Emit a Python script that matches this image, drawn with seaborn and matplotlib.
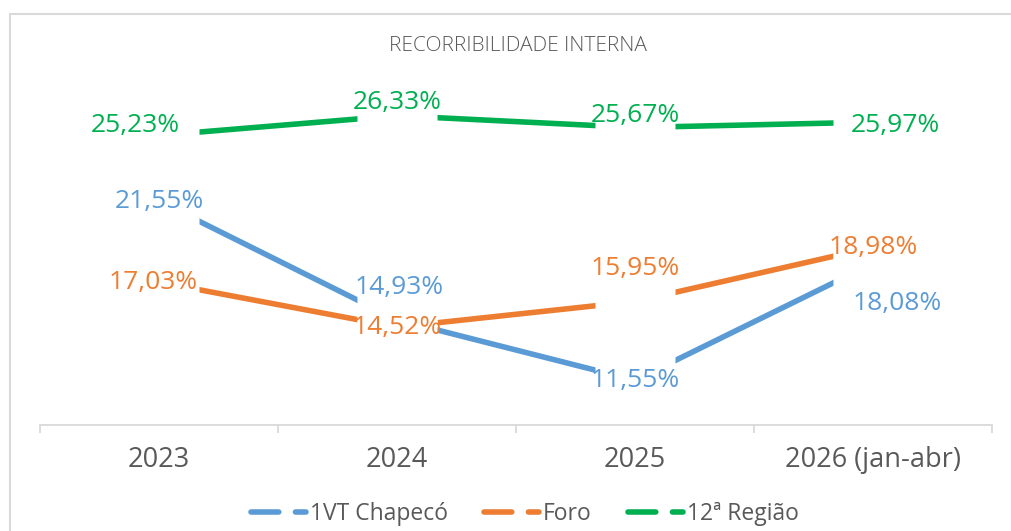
import numpy as np
import pandas as pd
import seaborn as sns
import matplotlib.pyplot as plt
from matplotlib.path import Path
from matplotlib.lines import Line2D
from matplotlib.patches import Rectangle

categories = ["2023", "2024", "2025", "2026 (jan-abr)"]
vt_chapeco = [21.55, 14.93, 11.55, 18.08]
foro = [17.03, 14.52, 15.95, 18.98]
regiao12 = [25.23, 26.33, 25.67, 25.97]
series_names = ["1VT Chapecó", "Foro", "12ª Região"]

colors = {"1VT Chapecó": "#5B9BD5", "Foro": "#ED7D31", "12ª Região": "#00B050"}
# label offsets (pixels) per point
offsets = {
    "1VT Chapecó": [(0, 0), (2, 32), (0, 0), (24, -40)],
    "Foro": [(-6, 0), (0, 0), (0, 33), (0, 0)],
    "12ª Região": [(-24, 10), (0, 13), (0, 12), (22, -3)],
}

rows = []
for name, vals in zip(series_names, [vt_chapeco, foro, regiao12]):
    for i, v in enumerate(vals):
        rows.append({"serie": name, "x": i, "valor": v})
df = pd.DataFrame(rows)

sns.set_theme(style="white")
plt.rcParams["font.family"] = ["Open Sans", "DejaVu Sans"]

fig = plt.figure(figsize=(10.12, 5.31), dpi=100)
ax = fig.add_axes([40 / 1012, 106 / 531, 952 / 1012, 375 / 531])

# white box under each point hides the line near it (Excel look)
gap = Path([(-1, -0.62), (1, -0.62), (1, 0.62), (-1, 0.62), (-1, -0.62)],
           [Path.MOVETO, Path.LINETO, Path.LINETO, Path.LINETO, Path.CLOSEPOLY])

z = 2
for name in ["Foro", "1VT Chapecó", "12ª Região"]:
    d = df[df.serie == name]
    sns.lineplot(data=d, x="x", y="valor", color=colors[name], linewidth=4,
                 ax=ax, legend=False, zorder=z)
    ax.plot(d.x, d.valor, ls="none", marker=gap, ms=57.6, mfc="white",
            mec="none", zorder=z + 0.1)
    z += 0.2

for name in series_names:
    d = df[df.serie == name]
    for (xi, v), off in zip(zip(d.x, d.valor), offsets[name]):
        ax.annotate(f"{v:.2f}%".replace(".", ","), (xi, v), xytext=off,
                    textcoords="offset pixels", ha="center", va="center",
                    fontsize=19, color=colors[name], zorder=10)

ax.set_xlim(-0.5, 3.5)
ax.set_ylim(9.05, 30)
ax.set_xticks(range(4))
ax.set_xticklabels(categories)
ax.set_xticks(np.arange(-0.5, 4, 1), minor=True)
ax.tick_params(axis="x", which="major", length=0, pad=15, labelsize=19.5,
               labelcolor="#595959")
ax.tick_params(axis="x", which="minor", length=6, width=1.3, color="#D9D9D9",
               direction="out", bottom=True)
ax.set_yticks([])
ax.set_xlabel("")
ax.set_ylabel("")
for s in ["top", "right", "left"]:
    ax.spines[s].set_visible(False)
ax.spines["bottom"].set_color("#D9D9D9")
ax.spines["bottom"].set_linewidth(1.3)

fig.text(518 / 1012, 1 - 46 / 531, "RECORRIBILIDADE INTERNA", ha="center",
         va="center", fontsize=15, color="#595959", fontweight="light")

handles = [Line2D([], [], color=colors[n], lw=4, ls=(0, (5, 3)),
                  dash_capstyle="round") for n in series_names]
fig.legend(handles, series_names, loc="center", ncol=3, frameon=False,
           bbox_to_anchor=(525 / 1012, 1 - 514 / 531), fontsize=16.5,
           labelcolor="#595959", handlelength=2.4, handletextpad=0.15,
           columnspacing=1.6)

fig.patches.append(Rectangle((10 / 1012, -0.1), 1.2, 1 - 14 / 531 + 0.1,
                             transform=fig.transFigure, fill=False,
                             ec="#D9D9D9", lw=1.5))

fig.savefig("out.png", dpi=100)
